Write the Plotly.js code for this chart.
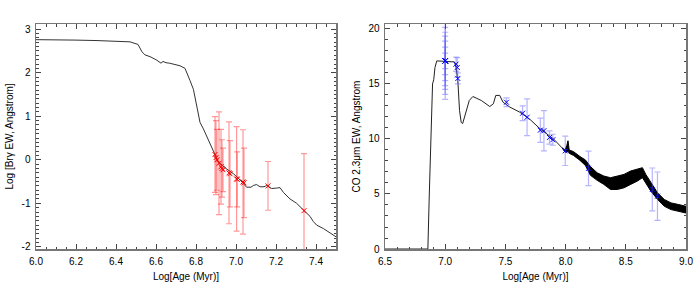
<!DOCTYPE html>
<html>
<head>
<meta charset="utf-8">
<script src="https://cdn.plot.ly/plotly-3.0.1.min.js"></script>
<style>
html,body{margin:0;padding:0;background:#fff;}
#chart{width:700px;height:293px;}
</style>
</head>
<body>
<div id="chart"></div>
<script>
// ---- Left panel: Br-gamma model curve ----
const brgAge = [6.0, 6.1, 6.2, 6.3, 6.4, 6.47, 6.51, 6.53, 6.545, 6.57, 6.6, 6.62, 6.625, 6.635, 6.65, 6.667, 6.7, 6.72, 6.745, 6.76, 6.77, 6.787, 6.803, 6.82, 6.837, 6.86, 6.887, 6.91, 6.95, 6.987, 7.02, 7.053, 7.075, 7.087, 7.103, 7.12, 7.14, 7.153, 7.178, 7.203, 7.22, 7.237, 7.27, 7.303, 7.337, 7.37, 7.387, 7.403, 7.437, 7.47, 7.5];
const brgEW  = [2.76, 2.76, 2.75, 2.74, 2.73, 2.71, 2.65, 2.48, 2.41, 2.37, 2.3, 2.24, 2.22, 2.26, 2.23, 2.22, 2.19, 2.16, 2.1, 1.95, 1.82, 1.62, 1.24, 0.86, 0.71, 0.49, 0.2, -0.04, -0.2, -0.32, -0.46, -0.63, -0.63, -0.59, -0.57, -0.62, -0.62, -0.59, -0.66, -0.65, -0.64, -0.75, -0.9, -1.0, -1.15, -1.3, -1.42, -1.5, -1.58, -1.69, -1.77];
// observed Br-gamma points
const brgObsAge = [6.895, 6.900, 6.905, 6.915, 6.925, 6.930, 6.935, 6.965, 6.970, 7.003, 7.006, 7.035, 7.040, 7.160, 7.340];
const brgObsEW  = [0.12, 0.05, 0.0, -0.08, -0.16, -0.20, -0.23, -0.30, -0.32, -0.44, -0.45, -0.51, -0.53, -0.60, -1.17];
const brgObsErr = [0.87, 0.85, 0.70, 1.18, 0.86, 0.66, 0.50, 1.17, 0.76, 1.20, 0.63, 1.20, 0.80, 0.56, 1.31];

// ---- Right panel: CO 2.3um model curve ----
const coAge = [6.5, 6.856, 6.868, 6.88, 6.895, 6.905, 6.915, 6.93, 7.0, 7.077, 7.09, 7.105, 7.119, 7.133, 7.145, 7.175, 7.2, 7.23, 7.3, 7.37, 7.4, 7.42, 7.453, 7.48, 7.537, 7.62, 7.70, 7.79, 7.9, 7.97];
const coEW  = [0.0, 0.0, 5.0, 8.9, 15.0, 15.4, 16.5, 17.1, 17.05, 17.0, 16.5, 15.3, 12.6, 11.5, 11.4, 12.6, 13.5, 13.86, 13.5, 12.95, 13.2, 13.96, 13.96, 13.34, 12.9, 12.43, 11.82, 10.9, 10.0, 9.2];
// noisy part of the model: upper / lower envelope
const coBandAge = [7.97, 7.995, 8.01, 8.02, 8.03, 8.066, 8.12, 8.164, 8.206, 8.262, 8.318, 8.373, 8.43, 8.485, 8.54, 8.596, 8.638, 8.666, 8.708, 8.764, 8.82, 8.876, 8.94, 9.0];
const coBandHi  = [9.2, 9.0, 9.4, 9.84, 9.0, 8.85, 8.4, 8.1, 7.5, 6.93, 6.63, 6.48, 6.63, 6.78, 7.09, 7.24, 7.39, 6.78, 6.02, 5.1, 4.5, 4.19, 4.04, 3.88];
const coBandLo  = [9.2, 8.8, 8.8, 8.9, 8.7, 8.5, 8.05, 7.6, 6.7, 6.24, 5.87, 5.41, 5.41, 5.56, 5.87, 6.17, 6.48, 6.02, 5.26, 4.5, 3.88, 3.58, 3.43, 3.27];
// observed CO points
const coObsAge = [7.0, 7.0, 7.0, 7.0, 7.0, 7.0, 7.0, 7.09, 7.10, 7.105, 7.509, 7.643, 7.68, 7.79, 7.82, 7.866, 7.894, 7.997, 8.19, 8.72, 8.763];
const coObsEW  = [17.1, 17.1, 17.1, 17.1, 17.1, 17.1, 17.1, 16.8, 16.5, 15.5, 13.34, 12.34, 11.97, 10.8, 10.75, 10.14, 9.93, 8.92, 7.33, 5.41, 4.8];
const coObsErr = [0.7, 1.25, 1.8, 2.25, 2.6, 3.05, 3.5, 0.65, 0.9, 0.5, 0.4, 0.67, 1.67, 1.1, 1.83, 0.6, 0.5, 1.33, 1.57, 1.95, 2.2];

// ---- Tick labels ----
const brgYTicks = [-2, -1, 0, 1, 2, 3];
const brgYTickText = ['-2', '-1', '0', '1', '2', '3'];
const coYTicks = [0, 5, 10, 15, 20];
const coYTickText = ['0', '5', '10', '15', '20'];

const font = {family: 'Liberation Sans, Arial, sans-serif', size: 10, color: '#000'};
const frame = {
  showline: true, mirror: 'allticks', linecolor: '#777', linewidth: 1.5,
  ticks: 'inside', ticklen: 5, tickcolor: '#444', tickwidth: 1,
  showgrid: false, zeroline: false, tickfont: font, ticklabelstandoff: 2
};

const traces = [
  {x: brgAge, y: brgEW, mode: 'lines', line: {color: '#333', width: 1}, xaxis: 'x', yaxis: 'y', hoverinfo: 'skip'},
  {x: brgObsAge, y: brgObsEW, mode: 'markers', xaxis: 'x', yaxis: 'y',
   marker: {symbol: 'x-thin-open', size: 5, line: {color: '#ff0000', width: 1}, color: '#ff0000'},
   error_y: {type: 'data', array: brgObsErr, color: 'rgba(255,0,0,0.4)', thickness: 1.2, width: 3}},
  {x: coAge, y: coEW, mode: 'lines', line: {color: '#222', width: 1}, xaxis: 'x2', yaxis: 'y2', hoverinfo: 'skip'},
  {x: coBandAge, y: coBandHi, mode: 'lines', line: {color: '#000', width: 1}, xaxis: 'x2', yaxis: 'y2', hoverinfo: 'skip'},
  {x: coBandAge, y: coBandLo, mode: 'lines', line: {color: '#000', width: 1}, fill: 'tonexty', fillcolor: '#000', xaxis: 'x2', yaxis: 'y2', hoverinfo: 'skip'},
  {x: coObsAge, y: coObsEW, mode: 'markers', xaxis: 'x2', yaxis: 'y2',
   marker: {symbol: 'x-thin-open', size: 5, line: {color: '#0000ff', width: 1}, color: '#0000ff'},
   error_y: {type: 'data', array: coObsErr, color: 'rgba(90,90,255,0.45)', thickness: 1.2, width: 3}}
];

const layout = {
  width: 700, height: 293,
  margin: {l: 36, r: 14, t: 24, b: 44},
  paper_bgcolor: '#fff', plot_bgcolor: '#fff',
  showlegend: false, font: font,
  xaxis: Object.assign({}, frame, {domain: [0, 300/650], range: [6.0, 7.5], dtick: 0.2, tick0: 6.0, tickformat: '.1f',
    minor: {dtick: 0.05, ticks: 'inside', ticklen: 2.5, tickcolor: '#444'},
    title: {text: 'Log[Age (Myr)]', font: font, standoff: 7}}),
  yaxis: Object.assign({}, frame, {domain: [0, 1], range: [-2.05, 3.12], tickmode: 'array', tickvals: brgYTicks, ticktext: brgYTickText,
    minor: {dtick: 0.1, ticks: 'inside', ticklen: 2.5, tickcolor: '#444'},
    title: {text: 'Log [Brγ EW, Angstrom]', font: font, standoff: 6}}),
  xaxis2: Object.assign({}, frame, {domain: [349/650, 1], range: [6.5, 9.0], dtick: 0.5, tick0: 6.5, tickformat: '.1f', anchor: 'y2',
    minor: {dtick: 0.1, ticks: 'inside', ticklen: 2.5, tickcolor: '#444'},
    title: {text: 'Log[Age (Myr)]', font: font, standoff: 7}}),
  yaxis2: Object.assign({}, frame, {domain: [0, 1], range: [0, 20.45], anchor: 'x2', tickmode: 'array', tickvals: coYTicks, ticktext: coYTickText,
    minor: {dtick: 1, ticks: 'inside', ticklen: 2.5, tickcolor: '#444'},
    title: {text: 'CO 2.3μm EW, Angstrom', font: font, standoff: 6}})
};

Plotly.newPlot('chart', traces, layout, {displayModeBar: false, staticPlot: true});
</script>
</body>
</html>
